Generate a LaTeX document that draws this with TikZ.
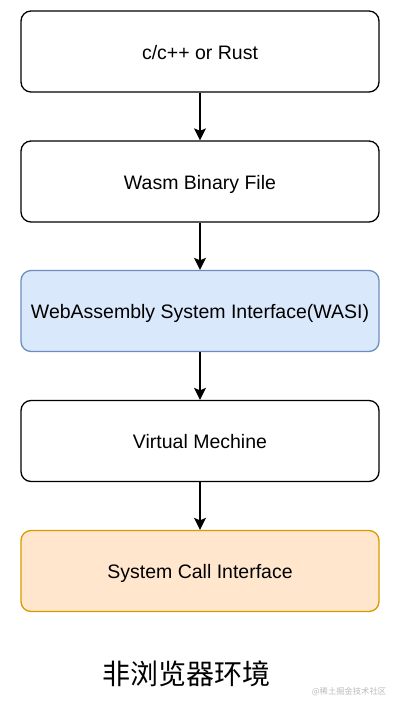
\documentclass[tikz,border=0pt]{standalone}
\usepackage{fontspec}
\setmainfont{Liberation Sans}
\newfontfamily\cjk{Noto Sans CJK SC}
\usetikzlibrary{arrows.meta}
\definecolor{bluefill}{HTML}{DAE8FC}
\definecolor{bluedraw}{HTML}{6C8EBF}
\definecolor{orangefill}{HTML}{FFE6CC}
\definecolor{orangedraw}{HTML}{D79B00}
\definecolor{wm}{HTML}{BBBBBB}
\begin{document}
\begin{tikzpicture}[x=1pt,y=-1pt,
  box/.style={draw=black,fill=white,rounded corners=10pt,line width=1.3pt,
    minimum width=358pt,minimum height=81pt,inner sep=0pt,
    text height=17pt,text depth=2pt,
    font=\fontsize{19.5}{23}\selectfont},
  bluebox/.style={box,draw=bluedraw,fill=bluefill},
  orangebox/.style={box,draw=orangedraw,fill=orangefill},
  conn/.style={line width=1.4pt,-{Stealth[length=12pt,width=12pt,inset=2.5pt]}}]
\useasboundingbox (0,0) rectangle (400,710);
\fill[white] (0,0) rectangle (400,710);
\node[box] (a) at (200,51.5) {c/c++ or Rust};
\node[box] (b) at (200,181.5) {Wasm Binary File};
\node[bluebox] (c) at (200,311) {WebAssembly System Interface(WASI)};
\node[box] (d) at (200,441) {Virtual Mechine};
\node[orangebox] (e) at (200,571) {System Call Interface};
\draw[conn] (a) -- (b);
\draw[conn] (b) -- (c);
\draw[conn] (c) -- (d);
\draw[conn] (d) -- (e);
\node[font=\cjk\fontsize{28}{31}\selectfont] (t) at (186,674) {非浏览器环境};
\node[font=\cjk\fontsize{8.3}{10}\selectfont,text=wm] (w) at (349,692) {@稀土掘金技术社区};
\end{tikzpicture}
\end{document}
